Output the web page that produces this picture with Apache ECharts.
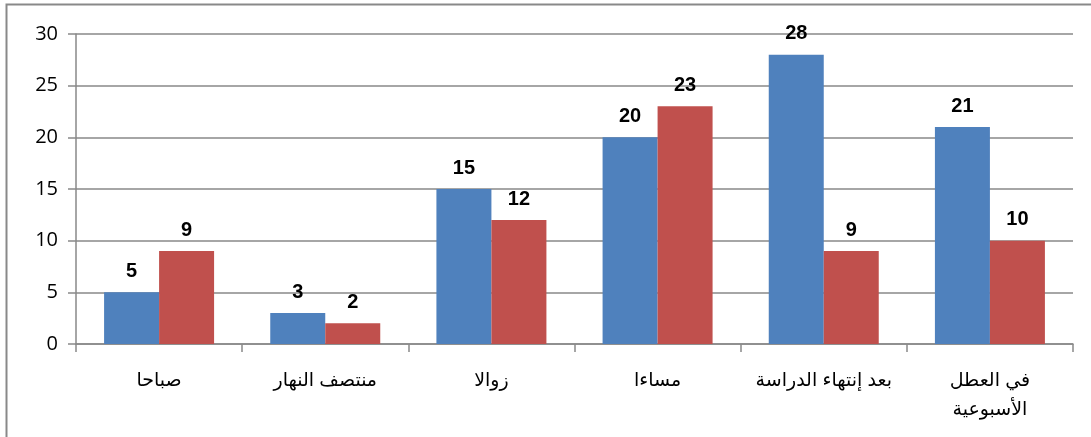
<!DOCTYPE html>
<html>
<head>
<meta charset="utf-8">
<script src="https://cdn.jsdelivr.net/npm/echarts@6/dist/echarts.min.js"></script>
<style>
	html, body { margin: 0; padding: 0; background: #fff; }
	#chart { width: 1091px; height: 437px; }
</style>
</head>
<body>
<div id="chart"></div>
<script>
var categories = ['صباحا', 'منتصف النهار', 'زوالا', 'مساءا', 'بعد إنتهاء الدراسة', 'في العطل\nالأسبوعية']
var blueValues = [5, 3, 15, 20, 28, 21]
var redValues = [9, 2, 12, 23, 9, 10]
var yTicks = { min: 0, max: 30, interval: 5 }

var gray = '#898989'
var myChart = echarts.init(document.getElementById('chart'))

function barSeries(data, color) {
	return {
		type: 'bar',
		data: data,
		barWidth: 55,
		barGap: '0%',
		itemStyle: { color: color },
		label: {
			show: true,
			position: 'top',
			distance: 11,
			color: '#000',
			fontWeight: 'bold',
			fontSize: 20,
			fontFamily: 'Arial, "Liberation Sans", sans-serif'
		}
	}
}

var option = {
	animation: false,
	grid: { left: 76, right: 18, top: 34, bottom: 93 },
	graphic: [{
		type: 'rect',
		shape: { x: 6.5, y: 4.5, width: 1100, height: 450 },
		style: { fill: null, stroke: gray, lineWidth: 2 },
		silent: true
	}],
	xAxis: {
		type: 'category',
		data: categories,
		axisLine: { lineStyle: { color: gray, width: 1.5 } },
		axisTick: { show: true, interval: 0, length: 8, lineStyle: { color: gray, width: 1.5 } },
		axisLabel: {
			interval: 0,
			hideOverlap: false,
			color: '#000',
			fontSize: 19,
			margin: 22,
			lineHeight: 29,
			fontFamily: 'Arial, "DejaVu Sans", sans-serif'
		}
	},
	yAxis: {
		type: 'value',
		min: yTicks.min,
		max: yTicks.max,
		interval: yTicks.interval,
		axisLine: { show: true, lineStyle: { color: gray, width: 1.5 } },
		axisTick: { show: true, length: 8, lineStyle: { color: gray, width: 1.5 } },
		splitLine: { lineStyle: { color: gray, width: 1.5 } },
		axisLabel: {
			color: '#000',
			fontSize: 20,
			margin: 18,
			fontFamily: '"Open Sans", "Noto Sans", sans-serif'
		}
	},
	series: [barSeries(blueValues, '#4F81BD'), barSeries(redValues, '#C0504D')]
}
myChart.setOption(option)
</script>
</body>
</html>
